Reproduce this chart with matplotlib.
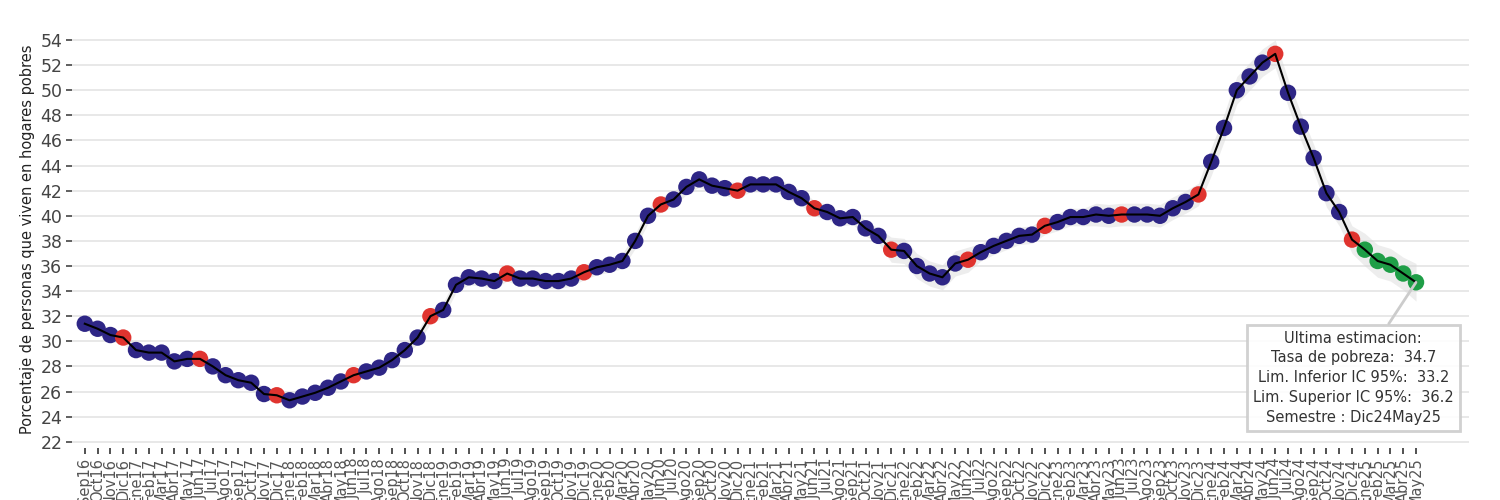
import numpy as np
import matplotlib.pyplot as plt

# monthly labels Sep16 .. May25
meses = ["Ene", "Feb", "Mar", "Abr", "May", "Jun", "Jul", "Ago", "Sep", "Oct", "Nov", "Dic"]
etiquetas = ["Sep16", "Oct16", "Nov16", "Dic16"] + \
    [m + str(a) for a in range(17, 25) for m in meses] + \
    ["Ene25", "Feb25", "Mar25", "Abr25", "May25"]

tasa = [31.4, 31.0, 30.5, 30.3, 29.3, 29.1, 29.1, 28.4, 28.6, 28.6, 28.0, 27.3,
        26.9, 26.7, 25.8, 25.7, 25.3, 25.6, 25.9, 26.3, 26.8, 27.3, 27.6, 27.9,
        28.5, 29.3, 30.3, 32.0, 32.5, 34.5, 35.1, 35.0, 34.8, 35.4, 35.0, 35.0,
        34.8, 34.8, 35.0, 35.5, 35.9, 36.1, 36.4, 38.0, 40.0, 40.9, 41.3, 42.3,
        42.9, 42.4, 42.2, 42.0, 42.5, 42.5, 42.5, 41.9, 41.4, 40.6, 40.3, 39.8,
        39.9, 39.0, 38.4, 37.3, 37.2, 36.0, 35.4, 35.1, 36.2, 36.5, 37.1, 37.6,
        38.0, 38.4, 38.5, 39.2, 39.5, 39.9, 39.9, 40.1, 40.0, 40.1, 40.1, 40.1,
        40.0, 40.6, 41.1, 41.7, 44.3, 47.0, 50.0, 51.1, 52.2, 52.9, 49.8, 47.1,
        44.6, 41.8, 40.3, 38.1, 37.3, 36.4, 36.1, 35.4, 34.7]

# half width of the 95% interval (estimated from the grey band)
semi_ic = [0.5] * 27 + [0.6] * 36 + [1.0] * 7 + [0.7] * 9 + [0.9] * 9 + \
    [1.1] * 12 + [1.3] * 4 + [1.5] * 1

# point type: s = semester estimate, p = preliminary, m = monthly
tipo = ["s" if e.startswith(("Jun", "Dic")) else "m" for e in etiquetas]
for i in range(100, 105):
    tipo[i] = "p"

colores = {"m": "#2e2686", "s": "#e0342f", "p": "#1f9e47"}

x = np.arange(len(etiquetas))
y = np.array(tasa)
ci = np.array(semi_ic)

fig = plt.figure(figsize=(15, 5), dpi=100)
ax = fig.add_axes([0.048, 0.104, 0.931, 0.836])

ax.fill_between(x, y - ci, y + ci, color="#d8d8d8", alpha=0.45, lw=0, zorder=1)
ax.plot(x, y, color="black", lw=1.5, zorder=3)
ax.scatter(x, y, s=140, c=[colores[t] for t in tipo], lw=0, zorder=2)

ax.set_xlim(-1, 108.1)
ax.set_ylim(21.5, 54.8)
ax.set_yticks(np.arange(22, 55, 2))
ax.set_xticks(x)
ax.set_xticklabels(etiquetas, rotation=90, fontsize=10.5, color="#555555")
ax.tick_params(axis="y", labelsize=12.5, colors="#444444", length=4, width=1.2, pad=3)
ax.tick_params(axis="x", length=4, width=1.2, color="#333333", pad=3)
for s in ax.spines.values():
    s.set_visible(False)
ax.grid(axis="y", color="#e6e6e6", lw=1.3)
ax.set_axisbelow(True)
ax.set_ylabel("Porcentaje de personas que viven en hogares pobres", fontsize=10.5, color="#222222", labelpad=4)

ultimo = len(y) - 1
texto = ("Ultima estimacion:\n"
         "Tasa de pobreza:  %.1f\n"
         "Lim. Inferior IC 95%%:  %.1f\n"
         "Lim. Superior IC 95%%:  %.1f\n"
         "Semestre : Dic24May25") % (y[ultimo], y[ultimo] - ci[ultimo], y[ultimo] + ci[ultimo])
ax.annotate(texto, xy=(x[ultimo], y[ultimo]), xytext=(99.1, 27.1),
            ha="center", va="center", fontsize=10.5, color="#333333", linespacing=1.4,
            bbox=dict(boxstyle="square,pad=0.4", fc="white", ec="#cccccc", lw=2, alpha=0.9),
            arrowprops=dict(arrowstyle="-", color="#cccccc", lw=2, shrinkA=0, shrinkB=0),
            zorder=5)

fig.savefig("out.png", dpi=100)
